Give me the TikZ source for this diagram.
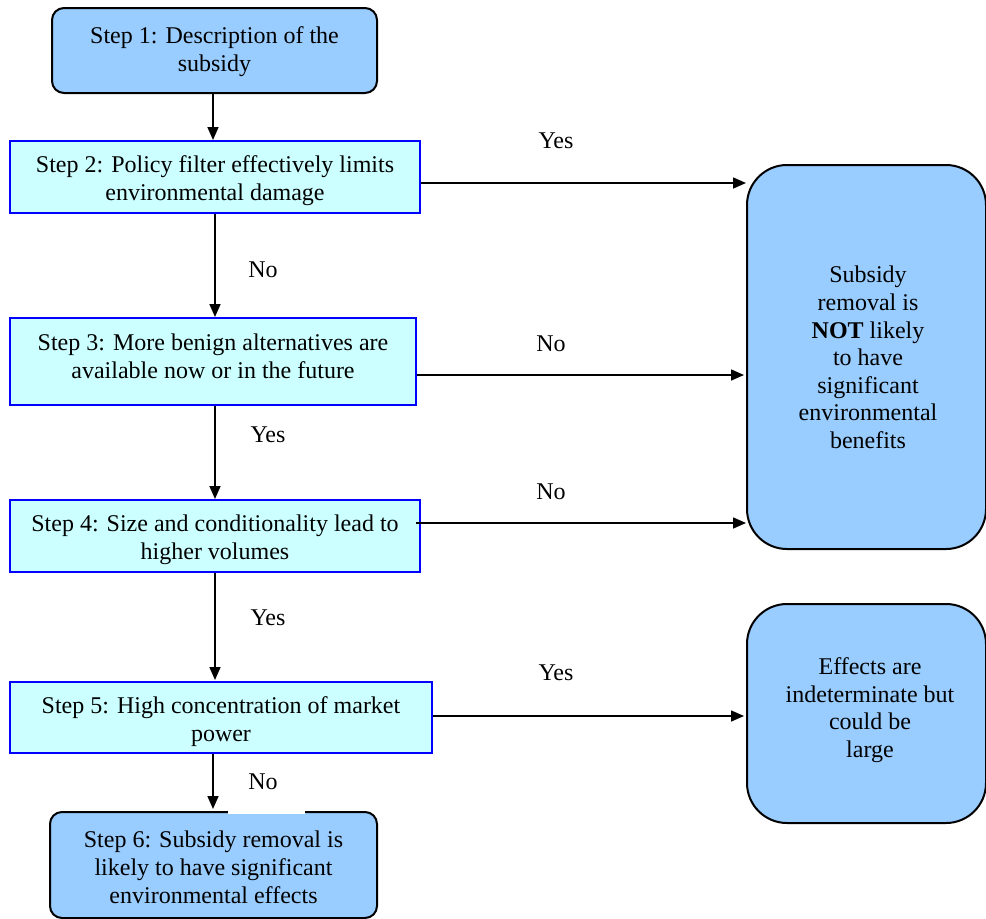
\documentclass[tikz,border=0pt]{standalone}
\usepackage{fontspec}
\setmainfont{Liberation Serif}
\usetikzlibrary{arrows.meta}
\definecolor{darkbox}{RGB}{153,204,255}
\definecolor{lightbox}{RGB}{204,255,255}
\definecolor{blueline}{RGB}{0,0,255}
\tikzset{
  txt/.style={font=\fontsize{24}{28}\selectfont, align=center, inner sep=0pt},
  endbox/.style={draw=black, line width=2pt, fill=darkbox, rounded corners=12pt, inner sep=0pt},
  stepbox/.style={draw=blueline, line width=2pt, fill=lightbox, inner sep=0pt},
  sidebox/.style={draw=black, line width=2pt, fill=darkbox, rounded corners=40pt, inner sep=0pt},
  arr/.style={line width=1.6pt, -{Triangle[length=13pt,width=11pt]}},
  lbl/.style={font=\fontsize{24}{28}\selectfont, inner sep=0pt}
}
\begin{document}
\begin{tikzpicture}[x=1pt,y=-1pt]
\useasboundingbox (0,0) rectangle (986,919);

% boxes
\node[endbox, minimum width=325pt, minimum height=85pt] (s1) at (214.5,50.5) {};
\node[txt] (s1t) at (214.5,51.5) {Step 1: Description of the\\subsidy};
\node[stepbox, minimum width=410pt, minimum height=72pt] (s2) at (215,177) {};
\node[txt] (s2t) at (215,181) {Step 2: Policy filter effectively limits\\environmental damage};
\node[stepbox, minimum width=406pt, minimum height=87pt] (s3) at (213,361.5) {};
\node[txt] (s3t) at (213,356.5) {Step 3: More benign alternatives are\\available now or in the future};
\node[stepbox, minimum width=410pt, minimum height=72pt] (s4) at (215,536) {};
\node[txt] (s4t) at (215,540) {Step 4: Size and conditionality lead to\\higher volumes};
\node[stepbox, minimum width=422pt, minimum height=71pt] (s5) at (221,717.5) {};
\node[txt] (s5t) at (221,721.5) {Step 5: High concentration of market\\power};
\node[endbox, minimum width=327pt, minimum height=106pt] (s6) at (213.5,865) {};
\node[txt] (s6t) at (213.5,867.5) {Step 6: Subsidy removal is\\likely to have significant\\environmental effects};

\node[sidebox, minimum width=239pt, minimum height=384pt] (r1) at (866.5,357) {};
\node[txt, font=\fontsize{24}{27.6}\selectfont] (r1t) at (868,357.5)
  {Subsidy\\removal is\\\textbf{NOT} likely\\to have\\significant\\environmental\\benefits};
\node[sidebox, minimum width=239pt, minimum height=219pt] (r2) at (866.5,713.5) {};
\node[txt, font=\fontsize{24}{27.6}\selectfont] (r2t) at (870,710)
  {Effects are\\indeterminate but\\could be\\large};

% gap in step 6 top border
\coordinate (g1) at (228,812);
\coordinate (g2) at (305,812);
\draw[white, line width=3pt] (g1) -- (g2);

% vertical arrows (x positions of the reference)
\coordinate (v1) at (213,0);
\coordinate (v2) at (215,0);
\coordinate (v5) at (213,0);
\draw[arr] (v1 |- s1.south) -- (v1 |- s2.north);
\draw[arr] (v2 |- s2.south) -- (v2 |- s3.north);
\draw[arr] (v2 |- s3.south) -- (v2 |- s4.north);
\draw[arr] (v2 |- s4.south) -- ([yshift=1pt]v2 |- s5.north);
\draw[arr] (v5 |- s5.south) -- ([yshift=2pt]v5 |- s6.north);

% horizontal arrows
\coordinate (a2) at ([yshift=-6pt]s2.east);
\coordinate (a3) at ([yshift=-13.5pt]s3.east);
\coordinate (a4) at ([xshift=-5pt,yshift=13pt]s4.east);
\coordinate (a5) at ([yshift=1.5pt]s5.east);
\coordinate (b2) at (r1.west |- a2);
\coordinate (b3) at ([xshift=-2pt]r1.west |- a3);
\coordinate (b4) at (r1.west |- a4);
\coordinate (b5) at ([xshift=-2pt]r2.west |- a5);
\draw[arr] (a2) -- (b2);
\draw[arr] (a3) -- (b3);
\draw[arr] (a4) -- (b4);
\draw[arr] (a5) -- (b5);

% labels
\node[lbl] (l1) at (556,141) {Yes};
\node[lbl] (l2) at (263,270) {No};
\node[lbl] (l3) at (551,344) {No};
\node[lbl] (l4) at (268,435) {Yes};
\node[lbl] (l5) at (551,492) {No};
\node[lbl] (l6) at (268,618) {Yes};
\node[lbl] (l7) at (556,673) {Yes};
\node[lbl] (l8) at (263,782) {No};
\end{tikzpicture}
\end{document}
